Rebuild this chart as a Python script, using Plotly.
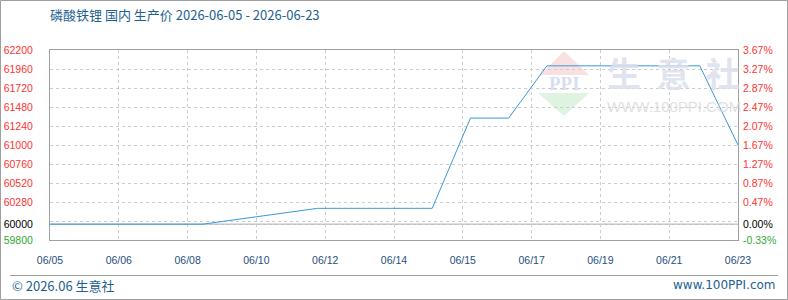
import plotly.graph_objects as go
from datetime import datetime

# ---------------- data ----------------
dates = ["2026-06-05", "2026-06-09", "2026-06-12", "2026-06-15", "2026-06-16",
         "2026-06-17", "2026-06-18", "2026-06-22", "2026-06-23"]
prices = [60000, 60000, 60200, 60200, 61340, 61340, 62000, 62000, 61000]

x_tick_labels = ["06/05", "06/06", "06/08", "06/10", "06/12", "06/14",
                 "06/15", "06/17", "06/19", "06/21", "06/23"]

left_tick_values = [62200, 61960, 61720, 61480, 61240, 61000, 60760, 60520, 60280, 60040, 60000, 59800]
left_tick_labels = ["62200", "61960", "61720", "61480", "61240", "61000", "60760", "60520", "60280", "", "60000", "59800"]
right_tick_labels = ["3.67%", "3.27%", "2.87%", "2.47%", "2.07%", "1.67%", "1.27%", "0.87%", "0.47%", "", "0.00%", "-0.33%"]

base_price = 60000
y_min, y_max = 59800, 62200
title_text = "磷酸铁锂 国内 生产价 2026-06-05 - 2026-06-23"

# ---------------- styling helpers ----------------
RED, BLACK, GREEN = "#ff3333", "#000000", "#33aa33"


def colored(vals, labels):
    out = []
    for v, t in zip(vals, labels):
        c = RED if v > base_price else (BLACK if v == base_price else GREEN)
        out.append(f'<span style="color:{c}">{t}</span>' if t else "")
    return out


start = datetime(2026, 6, 5)
end = datetime(2026, 6, 23)
span = end - start
x_tick_vals = [(start + span * k / 10).strftime("%Y-%m-%d %H:%M:%S") for k in range(11)]

W, H = 788, 300
L, R, T, B = 50, 738, 50, 240


def px(x):
    return (x - L) / (R - L)


def py(y):
    return (B - y) / (B - T)


LINE_COLOR = "#3a98d8"
AX_COLOR = "#a0a0a0"
GRID_COLOR = "#cccccc"
TEXT_BLUE = "#1d5f91"
TICK_BLUE = "#1f4f7f"
TICK_FONT = dict(family="Liberation Sans, Arial, sans-serif", size=10.5)

fig = go.Figure()

fig.add_trace(go.Scatter(x=dates, y=prices, mode="lines",
                         line=dict(color=LINE_COLOR, width=1),
                         hoverinfo="x+y", showlegend=False))
fig.add_trace(go.Scatter(x=dates, y=prices, mode="lines", yaxis="y2",
                         line=dict(color="rgba(0,0,0,0)", width=0),
                         hoverinfo="skip", showlegend=False))

# ---------------- watermark & frame ----------------
shapes = []
shapes.append(dict(type="path", xref="paper", yref="paper", layer="below",
                   path=f"M {px(564)} {py(51)} L {px(589)} {py(75)} L {px(540)} {py(75)} Z",
                   fillcolor="rgba(245,200,200,0.55)", line=dict(width=0)))
shapes.append(dict(type="path", xref="paper", yref="paper", layer="below",
                   path=f"M {px(538)} {py(93)} L {px(589)} {py(93)} L {px(564)} {py(116)} Z",
                   fillcolor="rgba(200,235,205,0.6)", line=dict(width=0)))
shapes.append(dict(type="line", xref="paper", yref="y", x0=0, x1=1,
                   y0=base_price, y1=base_price, layer="below",
                   line=dict(color=AX_COLOR, width=1)))
shapes.append(dict(type="line", xref="paper", yref="paper", x0=px(10), x1=px(778),
                   y0=py(275.5), y1=py(275.5), line=dict(color=AX_COLOR, width=1)))
shapes.append(dict(type="rect", xref="paper", yref="paper", x0=px(0.5), x1=px(787.5),
                   y0=py(0.5), y1=py(299.5), line=dict(color=AX_COLOR, width=1)))

annotations = [
    dict(text="<b>PPI</b>", xref="paper", yref="paper", x=px(564), y=py(83),
         showarrow=False, xanchor="center", yanchor="middle",
         font=dict(family="Liberation Serif, serif", size=19, color="rgba(190,200,230,0.6)")),
    dict(text="<b>生  意  社</b>", xref="paper", yref="paper", x=px(673), y=py(72),
         showarrow=False, xanchor="center", yanchor="middle",
         font=dict(family="Noto Sans CJK SC", size=34, color="rgba(218,224,237,0.85)")),
    dict(text="WWW.100PPI.COM", xref="paper", yref="paper", x=px(674), y=py(106),
         showarrow=False, xanchor="center", yanchor="middle",
         font=dict(family="Liberation Sans Narrow, Liberation Sans, Arial", size=15, color="rgba(215,215,215,0.8)")),
    dict(text="© 2026.06 生意社", xref="paper", yref="paper", x=px(10), y=py(285),
         showarrow=False, xanchor="left", yanchor="middle",
         font=dict(family="Noto Sans CJK SC, sans-serif", size=13, color=TEXT_BLUE)),
    dict(text="www.100PPI.com", xref="paper", yref="paper", x=px(778), y=py(285),
         showarrow=False, xanchor="right", yanchor="middle",
         font=dict(family="DejaVu Sans, Verdana, sans-serif", size=12, color=TEXT_BLUE)),
]

fig.update_layout(
    width=W, height=H,
    margin=dict(l=L, r=W - R, t=T, b=H - B, pad=0, autoexpand=False),
    paper_bgcolor="white", plot_bgcolor="white",
    title=dict(text=title_text, xref="container", yref="container",
               x=L / W, y=1 - 15 / H, xanchor="left", yanchor="middle",
               font=dict(family="Noto Sans CJK SC, sans-serif", size=13, color=TEXT_BLUE)),
    xaxis=dict(type="date", range=[start.strftime("%Y-%m-%d"), end.strftime("%Y-%m-%d")],
               tickvals=x_tick_vals, ticktext=x_tick_labels, automargin=False,
               showgrid=True, gridcolor=GRID_COLOR, griddash="3px,3px", gridwidth=1,
               showline=True, linecolor=AX_COLOR, linewidth=1, mirror=True,
               ticks="", ticklabelstandoff=10,
               tickfont=dict(color=TICK_BLUE, **TICK_FONT), zeroline=False, fixedrange=True),
    yaxis=dict(range=[y_min, y_max], tickvals=left_tick_values, automargin=False,
               ticktext=colored(left_tick_values, left_tick_labels),
               showgrid=True, gridcolor=GRID_COLOR, griddash="3px,3px", gridwidth=1,
               showline=True, linecolor=AX_COLOR, linewidth=1, mirror=True,
               ticks="", ticklabelstandoff=14, tickfont=TICK_FONT, zeroline=False),
    yaxis2=dict(range=[y_min, y_max], overlaying="y", side="right", automargin=False,
                tickvals=left_tick_values,
                ticktext=colored(left_tick_values, right_tick_labels),
                showgrid=False, showline=False, ticks="", ticklabelstandoff=4,
                tickfont=TICK_FONT, zeroline=False),
    shapes=shapes, annotations=annotations,
    showlegend=False,
)

fig.write_html("out.html")
